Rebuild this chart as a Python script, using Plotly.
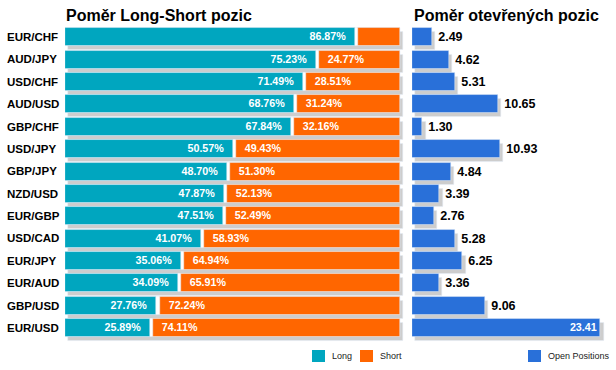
import plotly.graph_objects as go

# ---- data ----
pairs = ["EUR/CHF", "AUD/JPY", "USD/CHF", "AUD/USD", "GBP/CHF", "USD/JPY", "GBP/JPY",
         "NZD/USD", "EUR/GBP", "USD/CAD", "EUR/JPY", "EUR/AUD", "GBP/USD", "EUR/USD"]
long_pct = [86.87, 75.23, 71.49, 68.76, 67.84, 50.57, 48.70, 47.87, 47.51, 41.07, 35.06, 34.09, 27.76, 25.89]
short_pct = [13.13, 24.77, 28.51, 31.24, 32.16, 49.43, 51.30, 52.13, 52.49, 58.93, 64.94, 65.91, 72.24, 74.11]
open_positions = [2.49, 4.62, 5.31, 10.65, 1.30, 10.93, 4.84, 3.39, 2.76, 5.28, 6.25, 3.36, 9.06, 23.41]

title_left = "Poměr Long-Short pozic"
title_right = "Poměr otevřených pozic"
legend_items = [("Long", "#00A6BF", 312), ("Short", "#FF6600", 360), ("Open Positions", "#2970D9", 528)]

# ---- style ----
W, H = 616, 370
FONT = "Liberation Sans, Arial, sans-serif"
TEAL = "#00A6BF"
ORANGE = "#FF6600"
BLUE = "#2970D9"
SHADOW = "#CDCDCD"
BW = 0.804          # bar thickness (category units)
SH_DOWN = 0.179     # shadow vertical shift
GAP = 0.45          # half gap between long / short segments (in %)
NB = "\u00a0"
PAD = NB * 2

totals = [l + s for l, s in zip(long_pct, short_pct)]

fig = go.Figure()

# left chart: shadow, white backing, long, short
fig.add_trace(go.Bar(y=pairs, x=totals, base=1.0, orientation="h", marker_color=SHADOW,
                     offset=-BW / 2 + SH_DOWN, width=BW, showlegend=False, hoverinfo="skip"))
fig.add_trace(go.Bar(y=pairs, x=totals, base=0, orientation="h", marker_color="white",
                     offset=-BW / 2, width=BW, showlegend=False, hoverinfo="skip"))
fig.add_trace(go.Bar(y=pairs, x=[v - GAP for v in long_pct], base=0, orientation="h",
                     name="Long", marker_color=TEAL, offset=-BW / 2, width=BW,
                     text=[(f"{v:.2f}%{PAD}" if v > 15 else "") for v in long_pct],
                     textposition="inside", insidetextanchor="end", textangle=0,
                     textfont=dict(color="white", size=12.5, family=FONT, weight="bold"),
                     showlegend=False))
fig.add_trace(go.Bar(y=pairs, x=[v - GAP for v in short_pct], base=[v + GAP for v in long_pct],
                     orientation="h", name="Short", marker_color=ORANGE, offset=-BW / 2, width=BW,
                     text=[(f"{PAD}{v:.2f}%" if v > 15 else "") for v in short_pct],
                     textposition="inside", insidetextanchor="start", textangle=0,
                     textfont=dict(color="white", size=12.5, family=FONT, weight="bold"),
                     showlegend=False))

# right chart
mx = max(open_positions)
fig.add_trace(go.Bar(y=pairs, x=open_positions, base=0.4, orientation="h", marker_color=SHADOW,
                     offset=-BW / 2 + SH_DOWN, width=BW, showlegend=False, hoverinfo="skip",
                     xaxis="x2", yaxis="y2"))
fig.add_trace(go.Bar(y=pairs, x=open_positions, base=0, orientation="h", name="Open Positions",
                     marker_color=BLUE, offset=-BW / 2, width=BW, xaxis="x2", yaxis="y2",
                     text=[(f"{v:.2f}" if v > 0.9 * mx else f"{NB}{v:.2f}") for v in open_positions],
                     textposition=[("inside" if v > 0.9 * mx else "outside") for v in open_positions],
                     insidetextanchor="end", textangle=0, cliponaxis=False,
                     insidetextfont=dict(color="white", size=12.5, family=FONT, weight="bold"),
                     outsidetextfont=dict(color="black", size=12.5, family=FONT, weight="bold"),
                     showlegend=False))

# geometry
y0px, dy = 37.0, 22.385
ytop = -0.5
ybot = 13.7
dom_top = 1 - (y0px + ytop * dy) / H
dom_bot = 1 - (y0px + ybot * dy) / H

xl0, pxper = 65, 3.35
xr_max = 101.5
xr0, xr1 = 412, 610

axis_common = dict(showgrid=False, zeroline=False, showticklabels=False, showline=False, ticks="")
fig.update_layout(
    width=W, height=H, margin=dict(l=0, r=0, t=0, b=0, autoexpand=False),
    paper_bgcolor="white", plot_bgcolor="rgba(0,0,0,0)",
    barmode="overlay", bargap=0, showlegend=False,
    font=dict(family=FONT, color="black"),
    xaxis=dict(domain=[xl0 / W, (xl0 + xr_max * pxper) / W], range=[0, xr_max], **axis_common),
    yaxis=dict(domain=[dom_bot, dom_top], range=[ybot, ytop], type="category",
               categoryorder="array", categoryarray=pairs, **axis_common),
    xaxis2=dict(domain=[xr0 / W, xr1 / W], range=[0, 24.6], anchor="y2", **axis_common),
    yaxis2=dict(domain=[dom_bot, dom_top], range=[ybot, ytop], type="category", anchor="x2",
                categoryorder="array", categoryarray=pairs, **axis_common),
)

# row labels (left aligned)
for p in pairs:
    fig.add_annotation(x=5 / W, xref="paper", xanchor="left", y=p, yref="y", yanchor="middle",
                       text=p, showarrow=False,
                       font=dict(size=11.5, family=FONT, color="black", weight="bold"))

# titles
for t, xp in [(title_left, 64), (title_right, 412)]:
    fig.add_annotation(x=xp / W, xref="paper", xanchor="left", y=1 - 5 / H, yref="paper",
                       yanchor="top", text=t, showarrow=False,
                       font=dict(size=16, family=FONT, color="black", weight="bold"))

# legend (swatch + label)
for name, col, xp in legend_items:
    fig.add_shape(type="rect", xref="paper", yref="paper",
                  x0=xp / W, x1=(xp + 13) / W, y0=1 - 362 / H, y1=1 - 350 / H,
                  fillcolor=col, line_width=0)
    fig.add_annotation(x=(xp + 18) / W, xref="paper", xanchor="left", y=1 - 356 / H, yref="paper",
                       yanchor="middle", text=name, showarrow=False,
                       font=dict(size=9, family=FONT, color="#222222"))

fig.write_html("out.html", config={"displayModeBar": False},
               post_script="document.body.style.margin='0';document.body.style.overflow='hidden';")
